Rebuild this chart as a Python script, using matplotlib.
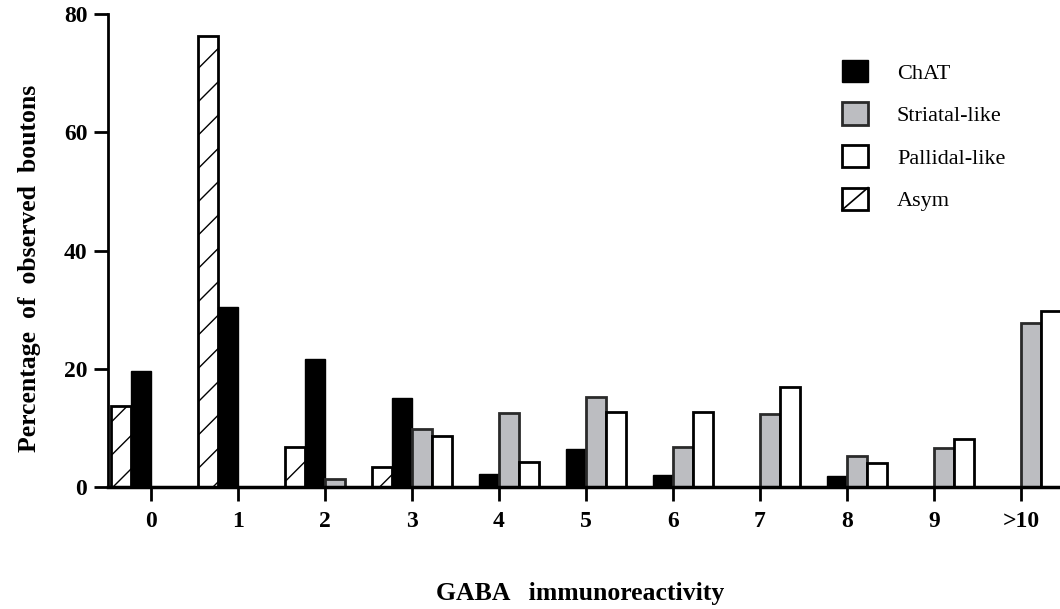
import numpy as np
import matplotlib
matplotlib.use('Agg')
import matplotlib.pyplot as plt
from matplotlib.patches import Patch, Rectangle
from matplotlib.lines import Line2D
from matplotlib.legend_handler import HandlerBase

categories = ['0', '1', '2', '3', '4', '5', '6', '7', '8', '9', '>10']
asym = [13.7, 76.2, 6.8, 3.4, 0, 0, 0, 0, 0, 0, 0]
chat = [19.6, 30.4, 21.6, 15.0, 2.2, 6.4, 2.0, 0, 1.9, 0, 0]
striatal = [0, 0, 1.4, 9.8, 12.5, 15.2, 6.8, 12.3, 5.2, 6.6, 27.8]
pallidal = [0, 0, 0, 8.6, 4.2, 12.7, 12.7, 17.0, 4.0, 8.1, 29.8]

plt.rcParams['font.family'] = ['Liberation Serif', 'DejaVu Serif']
plt.rcParams['hatch.linewidth'] = 1.0


class DiagonalBox(HandlerBase):
    # legend key for hatched bars: one box with a single diagonal stroke
    def create_artists(self, legend, orig_handle, xdescent, ydescent, width, height, fontsize, trans):
        box = Rectangle((-xdescent, -ydescent), width, height, facecolor='white',
                        edgecolor='black', linewidth=2, transform=trans)
        line = Line2D([-xdescent, -xdescent + width], [-ydescent, -ydescent + height],
                      color='black', linewidth=1.2, transform=trans)
        return [box, line]


fig = plt.figure(figsize=(10.6, 6.09), dpi=100)
ax = fig.add_axes([0.102, 0.2003, 0.898, 0.7767])

x = np.arange(len(categories))
w = 0.23
gray = '#bcbdc1'
ax.bar(x - 1.5 * w, asym, w, color='white', edgecolor='black', hatch='/', linewidth=2, zorder=3)
ax.bar(x - 0.5 * w, chat, w, color='black', edgecolor='black', linewidth=1, zorder=3)
ax.bar(x + 0.5 * w, striatal, w, color=gray, edgecolor='#2a2a2a', linewidth=2, zorder=3)
ax.bar(x + 1.5 * w, pallidal, w, color='white', edgecolor='black', linewidth=2, zorder=3)

ax.set_xlim(-0.49, 10.45)
ax.set_ylim(0, 80)
ax.set_yticks([0, 20, 40, 60, 80])
ax.set_xticks(x)
ax.set_xticklabels(categories)
for s in ['top', 'right']:
    ax.spines[s].set_visible(False)
ax.spines['left'].set_linewidth(2)
ax.spines['bottom'].set_linewidth(2.5)
ax.spines['bottom'].set_zorder(4)
ax.tick_params(axis='both', direction='out', length=10, width=2, labelsize=17)
ax.tick_params(axis='x', pad=7)
ax.tick_params(axis='y', pad=5)
for lab in ax.get_xticklabels() + ax.get_yticklabels():
    lab.set_fontweight('bold')

fig.text(0.028, 0.56, 'Percentage  of  observed  boutons', fontsize=18.5, fontweight='bold',
         rotation=90, ha='center', va='center')
fig.text(0.547, 0.025, 'GABA   immunoreactivity', fontsize=18.5, fontweight='bold', ha='center', va='center')

asym_key = Patch(facecolor='white', edgecolor='black', linewidth=2, label='Asym')
handles = [
    Patch(facecolor='black', edgecolor='black', linewidth=1, label='ChAT'),
    Patch(facecolor=gray, edgecolor='#2a2a2a', linewidth=2, label='Striatal-like'),
    Patch(facecolor='white', edgecolor='black', linewidth=2, label='Pallidal-like'),
    asym_key,
]
ax.legend(handles=handles, loc='upper left', bbox_to_anchor=(0.771, 0.903), frameon=False,
          fontsize=16, handlelength=1.17, handleheight=1.17, labelspacing=0.85, handletextpad=1.3,
          borderpad=0, borderaxespad=0, handler_map={asym_key: DiagonalBox()})

fig.savefig('out.png', dpi=100)
